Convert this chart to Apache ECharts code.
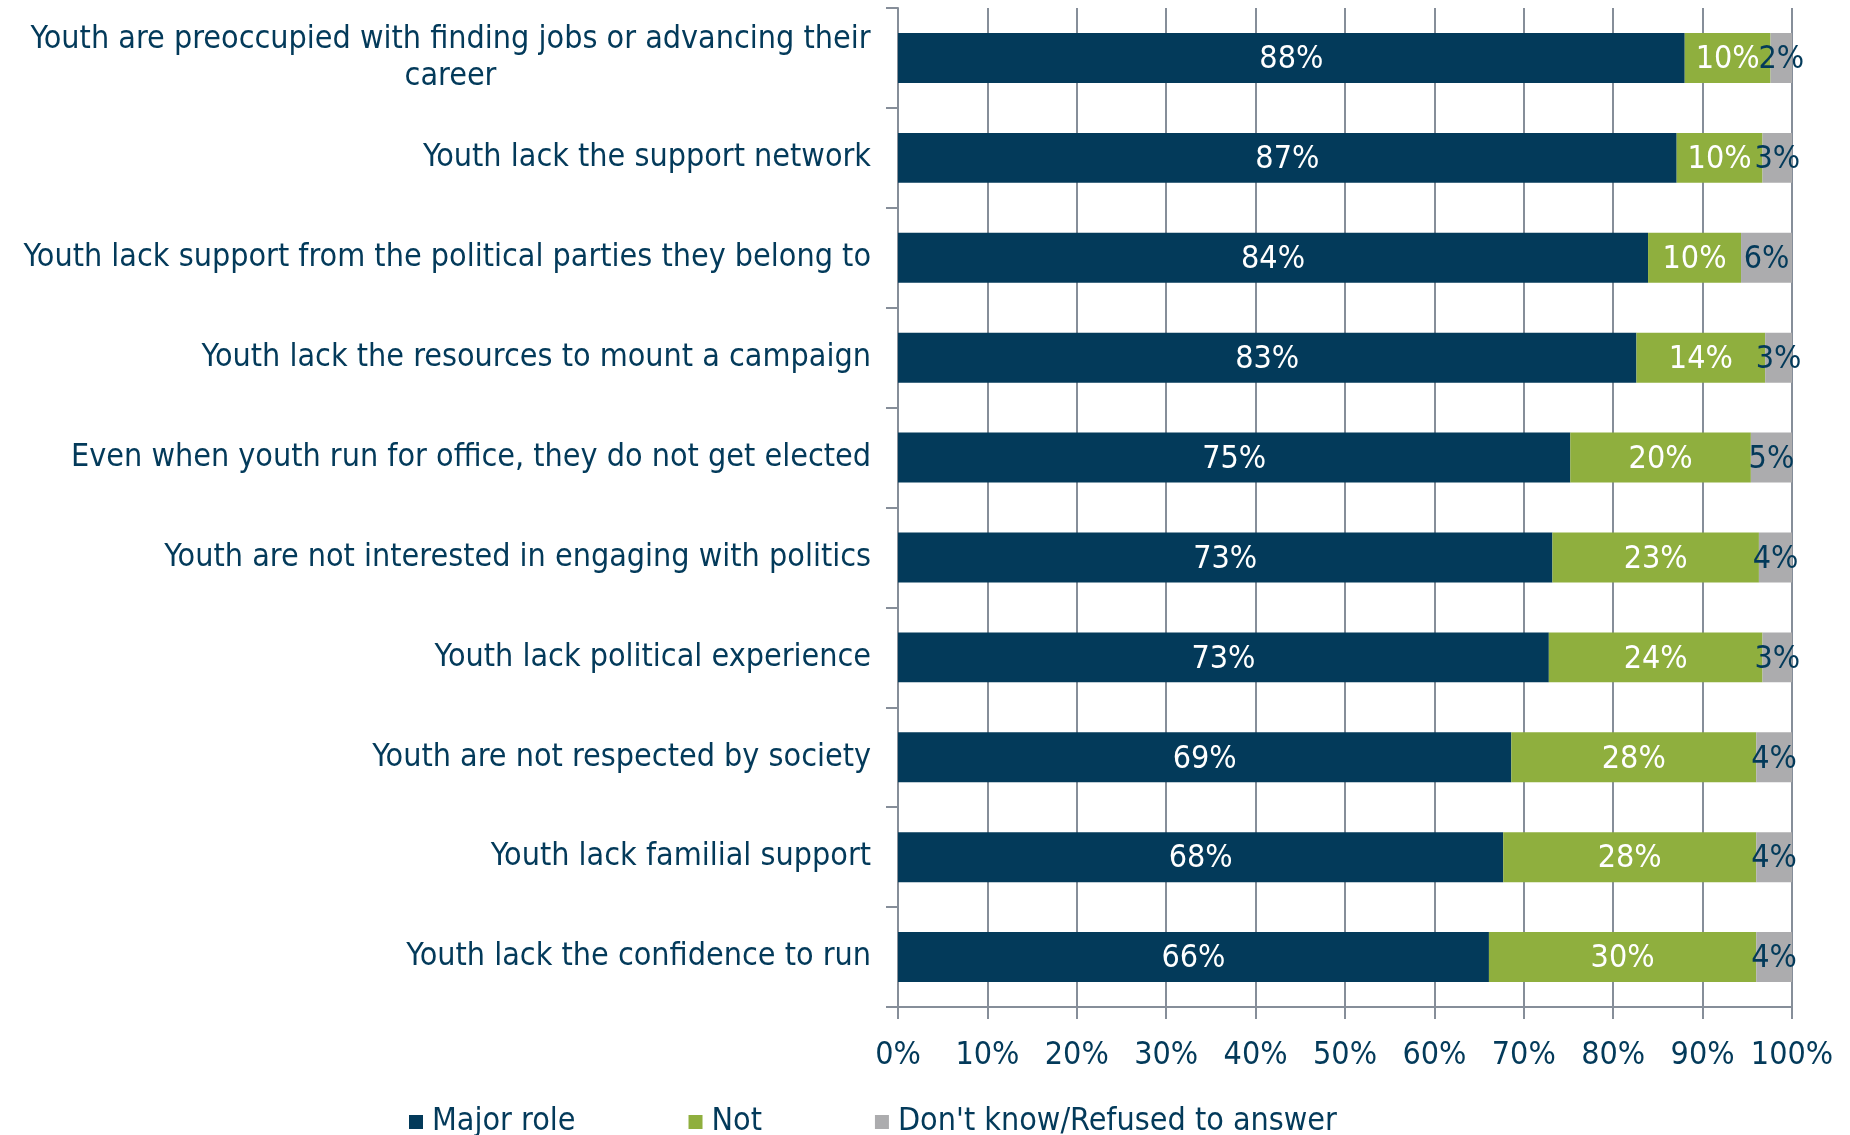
<!DOCTYPE html>
<html><head><meta charset="utf-8">
<script src="https://cdn.jsdelivr.net/npm/echarts@6/dist/echarts.min.js"></script>
<style>html,body{margin:0;padding:0;background:#fff}#c{width:1850px;height:1135px}</style>
</head><body><div id="c"></div>
<script>
const categories = [
  "Youth are preoccupied with finding jobs or advancing their\ncareer",
  "Youth lack the support network",
  "Youth lack support from the political parties they belong to",
  "Youth lack the resources to mount a campaign",
  "Even when youth run for office, they do not get elected",
  "Youth are not interested in engaging with politics",
  "Youth lack political experience",
  "Youth are not respected by society",
  "Youth lack familial support",
  "Youth lack the confidence to run"
];
const seriesNames = ["Major role", "Not", "Don't know/Refused to answer"];
const majorRole = [88.0, 87.1, 83.9, 82.6, 75.2, 73.2, 72.8, 68.6, 67.7, 66.1];
const notRole   = [9.6, 9.6, 10.4, 14.4, 20.2, 23.1, 23.9, 27.4, 28.3, 29.9];
const dontKnow  = [2.4, 3.3, 5.7, 3.0, 4.6, 3.7, 3.3, 4.0, 4.0, 4.0];
const majorLabels = ["88%","87%","84%","83%","75%","73%","73%","69%","68%","66%"];
const notLabels   = ["10%","10%","10%","14%","20%","23%","24%","28%","28%","30%"];
const dkLabels    = ["2%","3%","6%","3%","5%","4%","3%","4%","4%","4%"];
const xTicks = [0,10,20,30,40,50,60,70,80,90,100];

const FONT = '"DejaVu Sans Condensed","DejaVu Sans",sans-serif';
const NAVY = '#033a5a', GREEN = '#8faf3e', GRAY = '#acacae', AXIS = '#868e99';
const CAT_SIZE = 32;

const mctx = document.createElement('canvas').getContext('2d');
mctx.font = CAT_SIZE + 'px ' + FONT;
function textW(s) { return Math.ceil(mctx.measureText(s).width); }

function mk(name, data, labels, color, labelColor) {
  return {
    name, type: 'bar', stack: 'all', barWidth: '50%',
    data: data,
    itemStyle: { color },
    label: {
      show: true, position: 'inside', color: labelColor,
      fontFamily: FONT, fontSize: 32, offset: [0, 2],
      formatter: p => labels[p.dataIndex]
    }
  };
}

const firstLine = categories[0].split('\n')[0];
const chart = echarts.init(document.getElementById('c'), null, {renderer: 'canvas'});
chart.setOption({
  animation: false,
  grid: { left: 898, right: 58, top: 8, bottom: 128, containLabel: false },
  legend: {
    left: 404, top: 1101, itemWidth: 14, itemHeight: 14, itemGap: 113,
    icon: 'rect',
    textStyle: { fontFamily: FONT, fontSize: 32, color: NAVY, padding: [0, 0, 0, 4] },
    data: seriesNames
  },
  xAxis: {
    type: 'value', min: 0, max: 100, interval: 10,
    axisLine: { show: true, lineStyle: { color: AXIS, width: 2 } },
    axisTick: { show: true, length: 12, lineStyle: { color: AXIS, width: 2 } },
    splitLine: { show: true, lineStyle: { color: AXIS, width: 2 } },
    axisLabel: { margin: 33, fontFamily: FONT, fontSize: 32, color: NAVY,
      formatter: v => xTicks.includes(v) ? v + '%' : '' }
  },
  yAxis: {
    type: 'category', inverse: true, data: categories,
    axisLine: { show: true, lineStyle: { color: AXIS, width: 2 } },
    axisTick: { show: true, length: 12, lineStyle: { color: AXIS, width: 2 } },
    axisLabel: {
      margin: 27, fontFamily: FONT, fontSize: CAT_SIZE, color: NAVY, lineHeight: 37,
      formatter: v => v.indexOf('\n') < 0 ? v : v.split('\n').map(s => '{c|' + s + '}').join('\n'),
      rich: { c: { width: textW(firstLine), align: 'center', fontFamily: FONT, fontSize: CAT_SIZE, color: NAVY, lineHeight: 37 } }
    }
  },
  series: [
    mk(seriesNames[0], majorRole, majorLabels, NAVY, '#ffffff'),
    mk(seriesNames[1], notRole, notLabels, GREEN, '#ffffff'),
    mk(seriesNames[2], dontKnow, dkLabels, GRAY, NAVY)
  ]
});
</script></body></html>
